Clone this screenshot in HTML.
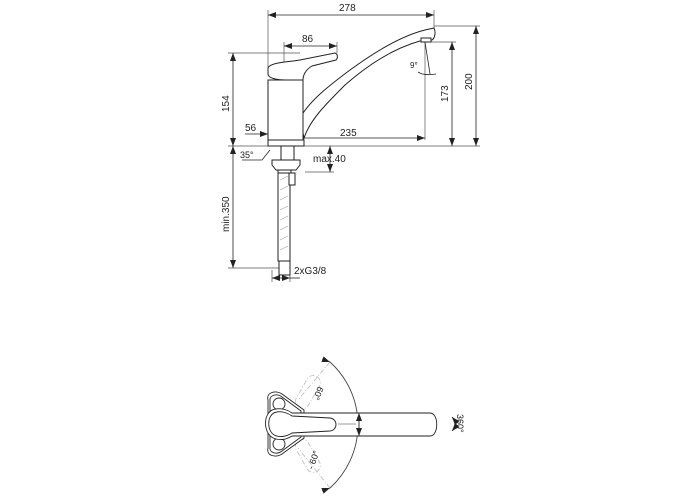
<!DOCTYPE html>
<html><head><meta charset="utf-8"><style>
html,body{margin:0;padding:0;background:#fff;}
svg{display:block}
text{font-family:"Liberation Sans",sans-serif;fill:#222;}
</style></head><body>
<svg width="700" height="500" viewBox="0 0 700 500" xmlns="http://www.w3.org/2000/svg">
<defs>
<marker id="a" markerWidth="8" markerHeight="6" refX="8" refY="3" orient="auto-start-reverse" markerUnits="userSpaceOnUse">
<path d="M0,0 L8,3 L0,6 Z" fill="#222"/></marker>
</defs>
<g stroke="#555" stroke-width="0.7" fill="none">
<line x1="268" y1="10" x2="268" y2="68"/>
<line x1="434" y1="10" x2="434" y2="28"/>
<line x1="284" y1="42" x2="284" y2="62"/>
<line x1="337" y1="42" x2="337" y2="53"/>
<line x1="228" y1="53" x2="300" y2="53"/>
<line x1="434" y1="26" x2="480" y2="26"/>
<line x1="425" y1="42" x2="456" y2="42"/>
<line x1="228" y1="146" x2="480" y2="146"/>
<line x1="305" y1="172" x2="334" y2="172"/>
<line x1="228" y1="268" x2="282" y2="268"/>
<line x1="425" y1="42" x2="425" y2="140"/>
<line x1="272" y1="270" x2="272" y2="282"/>
<line x1="290" y1="270" x2="290" y2="282"/>
</g>
<g stroke="#222" stroke-width="0.8" fill="none">
<line x1="268" y1="15" x2="434" y2="15" marker-start="url(#a)" marker-end="url(#a)"/>
<line x1="284" y1="46" x2="337" y2="46" marker-start="url(#a)" marker-end="url(#a)"/>
<line x1="233" y1="53" x2="233" y2="146" marker-start="url(#a)" marker-end="url(#a)"/>
<line x1="452" y1="42" x2="452" y2="146" marker-start="url(#a)" marker-end="url(#a)"/>
<line x1="476" y1="26" x2="476" y2="146" marker-start="url(#a)" marker-end="url(#a)"/>
<line x1="245" y1="134" x2="268" y2="134" marker-end="url(#a)"/>
<line x1="283" y1="138" x2="425" y2="138" marker-start="url(#a)" marker-end="url(#a)"/>
<line x1="233" y1="146" x2="233" y2="268" marker-start="url(#a)" marker-end="url(#a)"/>
<line x1="330" y1="146" x2="330" y2="172" marker-start="url(#a)" marker-end="url(#a)"/>
<line x1="272" y1="278" x2="290" y2="278" marker-start="url(#a)" marker-end="url(#a)"/>
<line x1="290" y1="278" x2="300" y2="278"/>
<path d="M242,160 L262,160 L270,150"/>
<path d="M425,42 L430,74"/>
<path d="M418,72 Q424,76 436,74"/>
</g>
<g stroke="#222" stroke-width="1" fill="#fff">
<path d="M300,118 C310,100 330,85 350,70 C380,48 405,35 425,30 L434,28 C436,32 435,38 432,40 L420,41 C395,48 370,63 345,85 C325,105 310,120 304,138 Z"/>
<path d="M268,80 L303,80 L303,146 L268,146 Z"/>
<path d="M268,68 C270,62 290,62 300,60 L335,53 C338,54 338,58 336,60 L312,66 C305,70 303,76 303,80 L286,80 C276,80 268,78 268,74 Z"/>
<rect x="421" y="38" width="10" height="4"/>
<rect x="268" y="140" width="36" height="6"/>
<rect x="281" y="146" width="13" height="14"/>
<path d="M272,160 L300,160 L300,165 L296,170 L276,170 L272,165 Z"/>
<rect x="278" y="170" width="13" height="3"/>
<rect x="278" y="173" width="12" height="88"/>
<rect x="289" y="173" width="6" height="12"/>
<rect x="279" y="261" width="11" height="14"/>
</g>
<g stroke="#888" stroke-width="0.5">
<line x1="280" y1="180" x2="288" y2="176"/><line x1="280" y1="190" x2="288" y2="186"/><line x1="280" y1="200" x2="288" y2="196"/><line x1="280" y1="210" x2="288" y2="206"/><line x1="280" y1="220" x2="288" y2="216"/><line x1="280" y1="230" x2="288" y2="226"/><line x1="280" y1="240" x2="288" y2="236"/><line x1="280" y1="250" x2="288" y2="246"/>
</g>
<g font-size="10">
<text x="339" y="11">278</text>
<text x="302" y="42">86</text>
<text x="245" y="131">56</text>
<text x="340" y="136">235</text>
<text x="240" y="158" font-size="9">35°</text>
<text x="313" y="162">max.40</text>
<text x="294" y="274">2xG3/8</text>
<text x="410" y="68" font-size="8">9°</text>
<text transform="translate(229,112) rotate(-90)">154</text>
<text transform="translate(448,102) rotate(-90)">173</text>
<text transform="translate(472,90) rotate(-90)">200</text>
<text transform="translate(229,232) rotate(-90)">min.350</text>
</g>
<!-- top view -->
<g stroke="#bbb" stroke-width="0.8" fill="none" stroke-dasharray="5,2,1,2">
<rect x="-6" y="-22" width="14" height="36" rx="7" transform="translate(305,395) rotate(30)"/>
<rect x="-6" y="-14" width="14" height="36" rx="7" transform="translate(305,453) rotate(-30)"/>
<line x1="330" y1="362" x2="298" y2="400"/>
<line x1="330" y1="488" x2="298" y2="448"/>
</g>
<g stroke="#222" stroke-width="0.9" fill="none">
<path d="M330,362 A85,85 0 0 1 330,488" stroke="#444"/>
<line x1="322" y1="359" x2="330" y2="362" marker-end="url(#a)"/>
<line x1="322" y1="491" x2="330" y2="488" marker-end="url(#a)"/>
<path d="M268,400 C266,392 276,390 282,394 L304,410 L304,438 L282,454 C276,458 266,456 268,448 Z" fill="#fff"/>
<path d="M270,401 C269,395 277,393 282,397 L301,411 L301,437 L282,451 C277,455 269,453 270,447 Z"/>
<circle cx="279" cy="404" r="6"/>
<circle cx="279" cy="444" r="6"/>
<path d="M292,413 L430,413 C439,413 439,436 430,436 L292,436 C286,440 280,440 276,439 C262,436 262,410 276,409 C282,408 288,410 292,413 Z" fill="#fff"/>
<path d="M292,416 L330,418 C338,419 338,430 330,431 L292,433 C286,437 280,437 277,436 C266,434 266,413 277,412 C282,411 288,413 292,416 Z"/>
<line x1="359" y1="413" x2="359" y2="436" marker-start="url(#a)" marker-end="url(#a)"/>
<line x1="338" y1="424" x2="356" y2="424" stroke="#999"/>
<path d="M452,417 Q458,424 452,431" marker-start="url(#a)" marker-end="url(#a)"/>
</g>
<g font-size="9">
<text transform="translate(318,386) rotate(112)">60°</text>
<text transform="translate(313,470) rotate(-70)">- 60°</text>
<text transform="translate(457,414) rotate(90)">360°</text>
</g>
</svg>
</body></html>
